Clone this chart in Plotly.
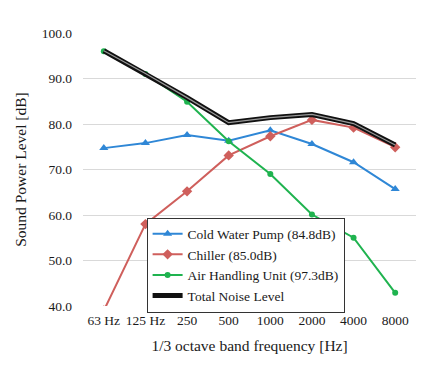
import plotly.graph_objects as go

categories = ["63 Hz", "125 Hz", "250", "500", "1000", "2000", "4000", "8000"]
pump = [74.7, 75.8, 77.6, 76.3, 78.6, 75.6, 71.6, 65.7]
chiller = [39.0, 58.0, 65.2, 73.1, 77.3, 80.9, 79.2, 74.9]
ahu = [96.0, 91.0, 84.9, 76.2, 69.0, 60.1, 55.0, 42.9]
total = [96.1, 91.1, 85.8, 80.3, 81.4, 82.1, 80.1, 75.4]
tick_vals = [40, 50, 60, 70, 80, 90, 100]
tick_text = ["40.0", "50.0", "60.0", "70.0", "80.0", "90.0", "100.0"]

FONT = "Liberation Serif"
TXT = "#1a1a1a"

fig = go.Figure()
fig.add_trace(go.Scatter(x=categories, y=pump, mode="lines+markers",
                         name="Cold Water Pump (84.8dB)",
                         line=dict(color="#2f87d6", width=2),
                         marker=dict(symbol="triangle-up", size=8, color="#2f87d6")))
fig.add_trace(go.Scatter(x=categories, y=chiller, mode="lines+markers",
                         name="Chiller (85.0dB)",
                         line=dict(color="#cf5f5c", width=2),
                         marker=dict(symbol="diamond", size=8, color="#cf5f5c")))
fig.add_trace(go.Scatter(x=categories, y=ahu, mode="lines+markers",
                         name="Air Handling Unit (97.3dB)",
                         line=dict(color="#1fb34f", width=2),
                         marker=dict(symbol="circle", size=6, color="#1fb34f")))
fig.add_trace(go.Scatter(x=categories, y=total, mode="lines",
                         name="Total Noise Level",
                         line=dict(color="#111111", width=5)))
fig.add_trace(go.Scatter(x=categories, y=total, mode="lines",
                         showlegend=False, hoverinfo="skip",
                         line=dict(color="#9a9a9a", width=1.2)))

fig.update_layout(
    width=432, height=368,
    margin=dict(l=63, r=24, t=25, b=70),
    paper_bgcolor="white", plot_bgcolor="white",
    font=dict(family=FONT, size=13, color=TXT),
    showlegend=True,
    legend=dict(x=0.191, y=0.324, xanchor="left", yanchor="top",
                bgcolor="white", bordercolor="#333", borderwidth=1,
                font=dict(family=FONT, size=13.5, color=TXT),
                tracegroupgap=0, itemwidth=30),
    xaxis=dict(type="category", range=[-0.5, 7.5], showgrid=False,
               showline=False, ticks="", tickfont=dict(size=13.5),
               ticklabelstandoff=4,
               title=dict(text="1/3 octave band frequency [Hz]", font=dict(size=15.5), standoff=13)),
    yaxis=dict(range=[40, 100], tickvals=tick_vals, ticktext=tick_text,
               showgrid=True, gridcolor="#d9d9d9", gridwidth=1, zeroline=False,
               showline=False, ticks="", tickfont=dict(size=13.5),
               ticklabelstandoff=10,
               title=dict(text="Sound Power Level [dB]", font=dict(size=15.5), standoff=11)),
)

fig.write_html("out.html")
